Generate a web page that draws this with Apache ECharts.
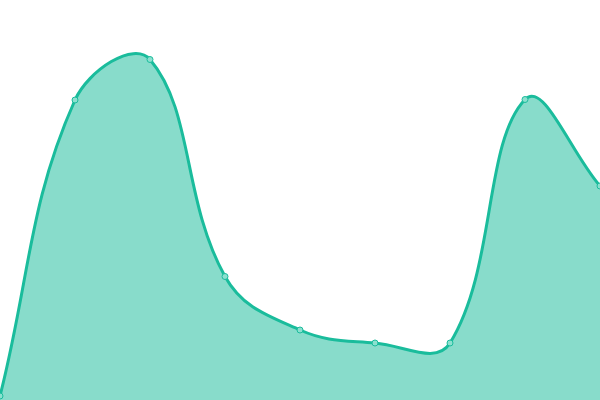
<!DOCTYPE html>
<html><head><meta charset="utf-8">
<script src="https://cdn.jsdelivr.net/npm/echarts@6/dist/echarts.min.js"></script>
<style>html,body{margin:0;padding:0;background:#fff}#c{width:600px;height:400px}</style>
</head><body><div id="c"></div>
<script>
const categories = ['1','2','3','4','5','6','7','8','9'];
const values = [4, 300, 340.5, 123.5, 70, 57, 57, 300.5, 214];
const tension = 0.4;
const lineColor = '#1abc9c';
const fillColor = 'rgba(26,188,156,0.52)';
const pointFill = '#8ce0cf';

function splineCps(pts) {
  const n = pts.length, out = [];
  for (let i = 0; i < n; i++) {
    const prev = pts[Math.max(i - 1, 0)], cur = pts[i], next = pts[Math.min(i + 1, n - 1)];
    const d01 = Math.hypot(cur[0] - prev[0], cur[1] - prev[1]);
    const d12 = Math.hypot(next[0] - cur[0], next[1] - cur[1]);
    let s01 = d01 / (d01 + d12), s12 = d12 / (d01 + d12);
    if (isNaN(s01)) s01 = 0; if (isNaN(s12)) s12 = 0;
    const fa = tension * s01, fb = tension * s12;
    out.push({
      prev: [cur[0] - fa * (next[0] - prev[0]), cur[1] - fa * (next[1] - prev[1])],
      next: [cur[0] + fb * (next[0] - prev[0]), cur[1] + fb * (next[1] - prev[1])]
    });
  }
  return out;
}

const chart = echarts.init(document.getElementById('c'));
chart.setOption({
  animation: false,
  grid: {left: 0, right: 0, top: 0, bottom: 0},
  xAxis: {type: 'category', data: categories, boundaryGap: false, show: false},
  yAxis: {type: 'value', min: 0, max: 400, show: false},
  series: [{
    type: 'custom',
    clip: false,
    data: values.map((v, i) => [i, v]),
    renderItem: function (params, api) {
      if (params.dataIndex !== 0) return null;
      const pts = values.map((v, i) => api.coord([i, v]));
      const cs = params.coordSys;
      const x0 = cs.x, x1 = cs.x + cs.width, y0 = cs.y, y1 = cs.y + cs.height;
      const cps = splineCps(pts).map(c => ({
        prev: [Math.min(Math.max(c.prev[0], x0), x1), Math.min(Math.max(c.prev[1], y0), y1)],
        next: [Math.min(Math.max(c.next[0], x0), x1), Math.min(Math.max(c.next[1], y0), y1)]
      }));
      let d = 'M' + pts[0][0] + ' ' + pts[0][1];
      for (let i = 1; i < pts.length; i++) {
        d += ' C' + cps[i - 1].next[0] + ' ' + cps[i - 1].next[1] + ' ' +
          cps[i].prev[0] + ' ' + cps[i].prev[1] + ' ' + pts[i][0] + ' ' + pts[i][1];
      }
      const base = api.coord([0, 0])[1];
      const areaD = d + ' L' + pts[pts.length - 1][0] + ' ' + base + ' L' + pts[0][0] + ' ' + base + ' Z';
      const children = [
        {type: 'path', shape: {pathData: areaD}, style: {fill: fillColor, stroke: null}},
        {type: 'path', shape: {pathData: d}, style: {fill: null, stroke: lineColor, lineWidth: 3}}
      ];
      pts.forEach(p => children.push({
        type: 'circle', shape: {cx: p[0], cy: p[1], r: 3},
        style: {fill: pointFill, stroke: lineColor, lineWidth: 1}
      }));
      return {type: 'group', children: children};
    }
  }]
});
</script></body></html>
